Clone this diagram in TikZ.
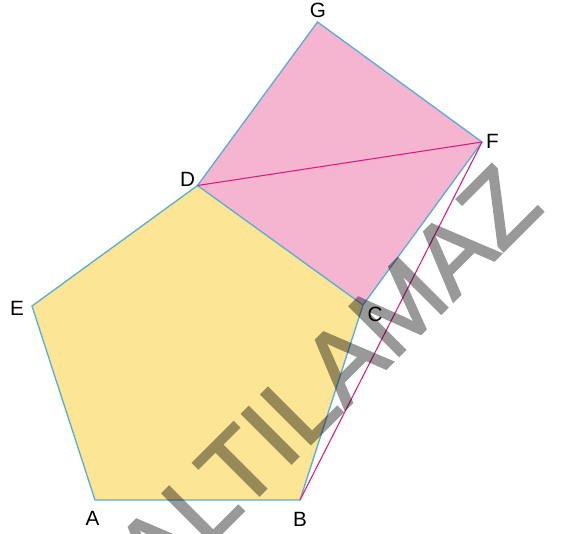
\documentclass[tikz,border=0pt]{standalone}
\usepackage{fontspec}
\setmainfont{Liberation Sans}
\newfontfamily\wmfont[FakeBold=2]{Liberation Sans}
\definecolor{penta}{HTML}{FCE594}
\definecolor{kare}{HTML}{F5B5D1}
\definecolor{kenar}{HTML}{5CADD3}
\definecolor{pembe}{HTML}{E0197D}
\begin{document}
\begin{tikzpicture}[x=0.75pt, y=-0.75pt,
  edge/.style={draw=kenar, line width=1pt, line join=miter},
  diag/.style={draw=pembe, line width=0.8pt},
  lbl/.style={font=\fontsize{15.5}{18}\selectfont, inner sep=0pt}]
  \useasboundingbox (0,0) rectangle (566,533);
  % vertices
  \coordinate (A) at (95,500);
  \coordinate (B) at (300,500);
  \coordinate (C) at (363,305);
  \coordinate (D) at (197.5,185.5);
  \coordinate (E) at (32,306);
  \coordinate (F) at (482,142);
  \coordinate (G) at (317.5,22);
  % faces
  \fill[penta] (A) -- (B) -- (C) -- (D) -- (E) -- cycle;
  \fill[kare] (D) -- (C) -- (F) -- (G) -- cycle;
  % sides
  \draw[edge] (A) -- (B) -- (C) -- (D) -- (E) -- cycle;
  \draw[edge] (C) -- (F) -- (G) -- (D);
  \draw[diag] (D) -- (F);
  \draw[diag] (B) -- (F);
  % labels
  \node[lbl] (la) at (92.5,518.5) {A};
  \node[lbl] (lb) at (300,519) {B};
  \node[lbl] (lc) at (375,314.5) {C};
  \node[lbl] (ld) at (187.5,179.5) {D};
  \node[lbl] (le) at (17,308) {E};
  \node[lbl] (lf) at (492.5,141) {F};
  \node[lbl] (lg) at (318,10) {G};
  % watermark
  \begin{scope}[transparency group, opacity=0.4]
    \clip (0,0) rectangle (566,533);
    \node[font=\wmfont\fontsize{76.5}{80}\selectfont, text=black,
      inner sep=0pt, anchor=base west, rotate=45] (wm) at (157.8,597.2) {ALTILAMAZ};
  \end{scope}
\end{tikzpicture}
\end{document}
